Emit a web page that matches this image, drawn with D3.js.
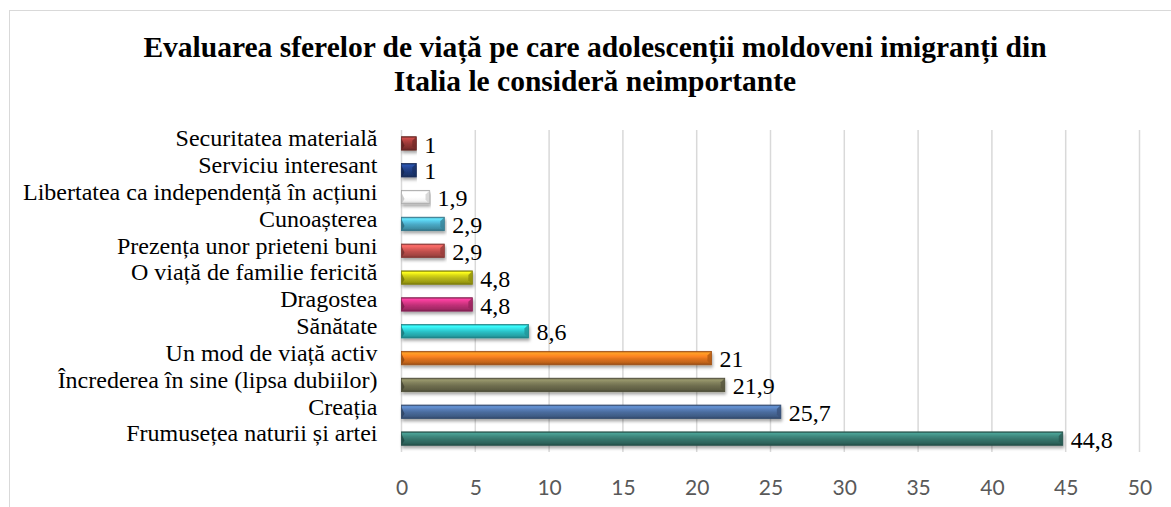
<!DOCTYPE html>
<html>
<head>
<meta charset="utf-8">
<script src="https://cdn.jsdelivr.net/npm/d3@7"></script>
<style>
  body { margin: 0; background: #fff; }
</style>
</head>
<body>
<div id="chart"></div>
<script>
const categories = [
    "Securitatea materială",
    "Serviciu interesant",
    "Libertatea ca independență în acțiuni",
    "Cunoașterea",
    "Prezența unor prieteni buni",
    "O viață de familie fericită",
    "Dragostea",
    "Sănătate",
    "Un mod de viață activ",
    "Încrederea în sine (lipsa dubiilor)",
    "Creația ",
    "Frumusețea naturii și artei"
];
const values = [1, 1, 1.9, 2.9, 2.9, 4.8, 4.8, 8.6, 21, 21.9, 25.7, 44.8];
const barColors = ["#953735", "#203d7f", "#ffffff", "#4aa8c4", "#c0504d", "#b8b814",
                   "#c03078", "#2bbfc4", "#e2741e", "#706f50", "#4a6b9c", "#36756c"];
const xTicks = [0, 5, 10, 15, 20, 25, 30, 35, 40, 45, 50];
const titleLines = [
    "Evaluarea sferelor de viață pe care adolescenții moldoveni imigranți din",
    "Italia le consideră neimportante"
];

const data = categories.map((c, i) => ({ cat: c, value: values[i], color: barColors[i], i }));

const width = 1171;
const height = 507;
const plot = { left: 401.5, right: 1139.5, top: 130, bottom: 452 };

const svg = d3.select("#chart")
    .append("svg")
    .attr("width", width)
    .attr("height", height);

// chart frame
svg.append("rect")
    .attr("x", 9.5).attr("y", 10.5)
    .attr("width", width + 10).attr("height", height + 10)
    .attr("fill", "#fff")
    .attr("stroke", "#d9d9d9");

const x = d3.scaleLinear().domain([0, 50]).range([plot.left, plot.right]);
const y = d3.scaleBand()
    .domain(categories)
    .range([plot.top, plot.bottom])
    .paddingInner(0.5)
    .paddingOuter(0.25);

const defs = svg.append("defs");

defs.append("filter")
    .attr("id", "shadow")
    .attr("x", "-5%").attr("y", "-40%")
    .attr("width", "110%").attr("height", "200%")
    .append("feDropShadow")
    .attr("dx", 1).attr("dy", 2.5)
    .attr("stdDeviation", 1.6)
    .attr("flood-color", "#000")
    .attr("flood-opacity", 0.35);

data.forEach(d => {
    const c = d3.color(d.color);
    const isWhite = d.color === "#ffffff";
    const g = defs.append("linearGradient")
        .attr("id", "grad" + d.i)
        .attr("x1", 0).attr("y1", 0).attr("x2", 0).attr("y2", 1);
    const stops = isWhite
        ? [[0, "#d0d0d0"], [0.12, "#ffffff"], [0.5, "#ffffff"], [0.8, "#f2f2f2"], [1, "#bdbdbd"]]
        : [[0, c.darker(0.8)], [0.12, c.brighter(0.9)], [0.35, c.brighter(0.4)],
           [0.55, c], [0.85, c.darker(0.5)], [1, c.darker(1.2)]];
    stops.forEach(([o, col]) => g.append("stop").attr("offset", o).attr("stop-color", col));
});

// gridlines
svg.append("g")
    .selectAll("line")
    .data(xTicks)
    .join("line")
    .attr("x1", d => x(d)).attr("x2", d => x(d))
    .attr("y1", plot.top).attr("y2", plot.bottom)
    .attr("stroke", "#d9d9d9")
    .attr("stroke-width", 1.5);

// x axis tick labels
svg.append("g")
    .attr("transform", `translate(0,${plot.bottom + 40})`)
    .call(d3.axisBottom(x).tickValues(xTicks).tickSize(0).tickFormat(d3.format("d")))
    .call(g => g.select(".domain").remove())
    .call(g => g.selectAll("text")
        .attr("font-family", "Lato, 'Open Sans', sans-serif")
        .attr("font-size", "21px")
        .attr("fill", "#595959")
        .attr("dy", "0"));

// category labels
svg.append("g")
    .attr("transform", `translate(${plot.left - 21},0)`)
    .call(d3.axisLeft(y).tickSize(0))
    .call(g => g.select(".domain").remove())
    .call(g => g.selectAll("text")
        .attr("font-family", "'Liberation Serif', 'Times New Roman', serif")
        .attr("font-size", "24px")
        .attr("fill", "#000")
        .attr("dy", "0.12em"));

// bars
const bars = svg.append("g").selectAll("g.bar")
    .data(data)
    .join("g")
    .attr("class", "bar")
    .attr("filter", "url(#shadow)");

bars.append("rect")
    .attr("x", x(0))
    .attr("y", d => y(d.cat))
    .attr("width", d => x(d.value) - x(0))
    .attr("height", y.bandwidth())
    .attr("fill", d => `url(#grad${d.i})`)
    .attr("stroke", d => d.color === "#ffffff" ? "#a6a6a6" : d3.color(d.color).darker(1))
    .attr("stroke-width", 0.8);

// bevel on the right end
bars.append("path")
    .attr("d", d => {
        const x1 = x(d.value), y0 = y(d.cat), h = y.bandwidth(), b = Math.min(4, (x1 - x(0)) / 3);
        return `M${x1},${y0} L${x1 - b},${y0 + b} L${x1 - b},${y0 + h - b} L${x1},${y0 + h} Z`;
    })
    .attr("fill", d => d.color === "#ffffff" ? "#cfcfcf" : d3.color(d.color).darker(0.7))
    .attr("opacity", 0.8);

// bevel on the left end
bars.append("path")
    .attr("d", d => {
        const x0 = x(0), y0 = y(d.cat), h = y.bandwidth();
        return `M${x0},${y0 + 2} L${x0 + 3},${y0 + h / 2 + 2} L${x0},${y0 + h} Z`;
    })
    .attr("fill", d => d.color === "#ffffff" ? "#bfbfbf" : d3.color(d.color).darker(1.4))
    .attr("opacity", 0.8);

// value labels
svg.append("g").selectAll("text")
    .data(data)
    .join("text")
    .attr("x", d => x(d.value) + 8)
    .attr("y", d => y(d.cat) + y.bandwidth() / 2)
    .attr("dy", "0.38em")
    .attr("font-family", "'Liberation Serif', 'Times New Roman', serif")
    .attr("font-size", "24px")
    .attr("fill", "#000")
    .text(d => String(d.value).replace(".", ","));

// title
svg.append("text")
    .attr("x", 595)
    .attr("y", 57)
    .attr("text-anchor", "middle")
    .attr("font-family", "'Liberation Serif', 'Times New Roman', serif")
    .attr("font-weight", "bold")
    .attr("font-size", "29.5px")
    .attr("fill", "#000")
    .selectAll("tspan")
    .data(titleLines)
    .join("tspan")
    .attr("x", 595)
    .attr("dy", (d, i) => i === 0 ? 0 : 34)
    .text(d => d);
</script>
</body>
</html>
